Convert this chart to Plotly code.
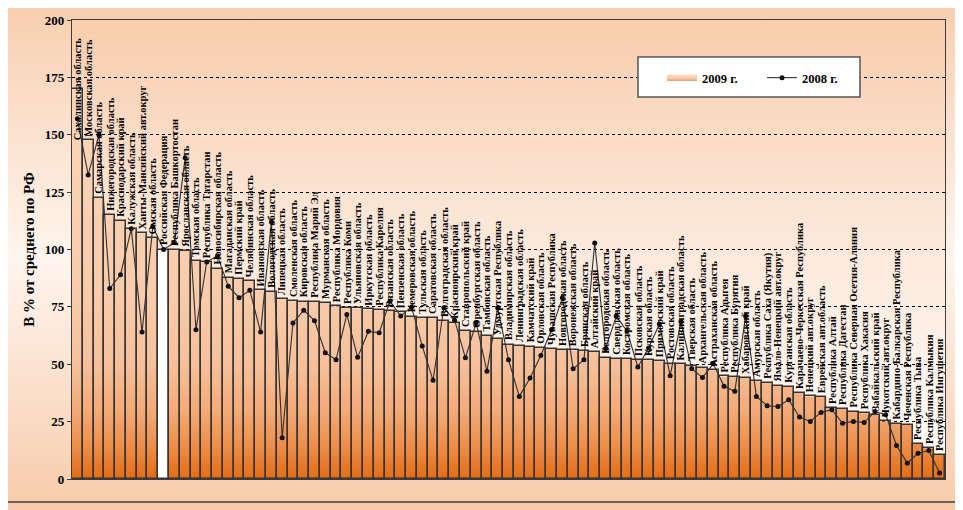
import base64
import numpy as np
import plotly.graph_objects as go

regions = [
    "Сахалинская область", "Московская область", "Самарская область", "Нижегородская область",
    "Краснодарский край", "Калужская область", "Ханты-Мансийский авт.округ", "Омская область",
    "Российская Федерация", "Республика Башкортостан", "Ярославская область", "Томская область",
    "Республика Татарстан", "Новосибирская область", "Магаданская область", "Пермский край",
    "Челябинская область", "Ивановская область", "Вологодская область", "Липецкая область",
    "Смоленская область", "Кировская область", "Республика Марий Эл", "Мурманская область",
    "Республика Мордовия", "Республика Коми", "Ульяновская область", "Иркутская область",
    "Республика Карелия", "Рязанская область", "Пензенская область", "Кемеровская область",
    "Тульская область", "Саратовская область", "Волгоградская область", "Красноярский край",
    "Ставропольский край", "Оренбургская область", "Тамбовская область", "Удмуртская Республика",
    "Владимирская область", "Ленинградская область", "Камчатский край", "Орловская область",
    "Чувашская Республика", "Новгородская область", "Воронежская область", "Брянская область",
    "Алтайский край", "Белгородская область", "Свердловская область", "Костромская область",
    "Псковская область", "Курская область", "Приморский край", "Ростовская область",
    "Калининградская область", "Тверская область", "Архангельская область", "Астраханская область",
    "Республика Адыгея", "Республика Бурятия", "Хабаровский край", "Амурская область",
    "Республика Саха (Якутия)", "Ямало-Ненецкий авт.округ", "Курганская область",
    "Карачаево-Черкесская Республика", "Ненецкий авт.округ", "Еврейская авт.область",
    "Республика Алтай", "Республика Дагестан", "Республика Северная Осетия-Алания",
    "Республика Хакасия", "Забайкальский край", "Чукотский авт.округ",
    "Кабардино-Балкарская Республика", "Чеченская Республика", "Республика Тыва",
    "Республика Калмыкия", "Республика Ингушетия",
]

values_2009 = [
    170, 147.5, 122.5, 115, 112.5, 109, 107, 105, 100, 99.7,
    99.5, 95, 94.5, 91.7, 87.8, 87.3, 86.3, 82.2, 81.5, 78.3,
    77.5, 77.3, 77, 76.8, 75.3, 74.7, 74.3, 73.9, 73.6, 73.2,
    72.7, 70.7, 70.3, 70, 68.8, 68.1, 64.7, 64, 62.5, 61,
    58.6, 57.9, 57.6, 57.1, 56.7, 56.4, 56, 55.7, 55.3, 52.8,
    52.3, 52.3, 52, 51.7, 51.3, 50.3, 50.1, 49.4, 48.4, 47.4,
    44.7, 44.5, 44, 42.6, 41.8, 40.7, 40.1, 37.5, 36, 35.7,
    30.9, 30.5, 29.4, 28.7, 28, 25.1, 24, 23.6, 15.3, 13.4,
    10.5,
]

values_2008 = [
    157, 132.5, 150, 83, 89, 109, 64, 110, 100, 103,
    140, 65, 94.6, 97.2, 84, 79, 82.2, 64, 112, 18,
    68, 73.5, 69, 55, 52, 71.7, 53, 64.4, 63.7, 77.5,
    71, 75, 57.9, 43, 74.6, 69.2, 52.8, 68, 47, 74.6,
    52, 36, 44, 53.8, 65, 79, 48, 52, 102.8, 56.8,
    71, 64.4, 48.8, 57.1, 67.5, 45, 68.5, 48, 44.2, 50.2,
    40.4, 38.2, 71, 36, 31.9, 31.6, 34.5, 27, 25.1, 29,
    30.2, 24.3, 25.1, 24.6, 29.4, 28, 14.6, 6.9, 11.2, 12.4,
    2.6,
]

series_2009 = "2009 г."
series_2008 = "2008 г."
y_title = "В % от среднего по РФ"
y_ticks = [0, 25, 50, 75, 100, 125, 150, 175, 200]
total_name = "Российская Федерация"

n = len(regions)
idx = np.arange(n)
v09 = np.array(values_2009, dtype=float)

# the page adds an 8px body margin, so the figure is sized to the window minus that offset
OFF = 8
W, H = 963 - OFF, 510 - OFF
L, T = 72 - OFF, 20 - OFF
R, B = W - (945 - OFF), H - (479 - OFF)
pw, ph = W - L - R, H - T - B

SERIF = "Liberation Serif"


def px_x(p):
    """page pixel -> plot paper fraction"""
    return (p - OFF - L) / pw


def px_y(p):
    return (H - B - (p - OFF)) / ph


def svg_uri(stops):
    st = "".join(f'<stop offset="{o}" stop-color="{c}"/>' for o, c in stops)
    svg = ('<svg xmlns="http://www.w3.org/2000/svg" width="10" height="100" preserveAspectRatio="none">'
           f'<defs><linearGradient id="g" x1="0" y1="0" x2="0" y2="1">{st}</linearGradient></defs>'
           '<rect width="10" height="100" fill="url(#g)"/></svg>')
    return "data:image/svg+xml;base64," + base64.b64encode(svg.encode()).decode()


fig = go.Figure()

# gradient fill of the 2009 bars (step outline of the same values)
fig.add_trace(go.Scatter(
    x=np.arange(n + 1) - 0.5, y=np.append(v09, v09[-1]),
    mode="none", line_shape="hv", fill="tozeroy", name=series_2009,
    fillgradient=dict(type="vertical", start=0, stop=200,
                      colorscale=[[0, "#e46a12"], [0.06, "#ec8840"], [0.14, "#f3a874"],
                                  [0.25, "#f7c09a"], [0.4, "#f9cbaa"], [0.7, "#fad3b5"],
                                  [1, "#fbd8bd"]]),
    hoverinfo="skip", xaxis="x", yaxis="y",
))

bar_colors = ["white" if r == total_name else "rgba(0,0,0,0)" for r in regions]
fig.add_trace(go.Bar(
    x=idx, y=v09, width=1, name=series_2009, showlegend=False,
    marker=dict(color=bar_colors, line=dict(color="#353535", width=1.5)),
    xaxis="x", yaxis="y2",
))

fig.add_trace(go.Scatter(
    x=idx, y=values_2008, mode="lines+markers", name=series_2008,
    line=dict(color="#303030", width=1.1),
    marker=dict(color="#111111", size=5),
    xaxis="x", yaxis="y2",
))

annotations = []
for i, (r, v) in enumerate(zip(regions, values_2009)):
    over = v > 150
    annotations.append(dict(
        x=i, y=v, xref="x", yref="y2", text=r, textangle=-90, showarrow=False,
        xanchor="center", yanchor="middle" if over else "bottom", yshift=0 if over else 2,
        font=dict(family=SERIF, size=10.5, color="black", weight="bold"),
    ))

shapes = [
    dict(type="rect", xref="paper", yref="paper", x0=px_x(638), x1=px_x(860), y0=px_y(97), y1=px_y(57),
         fillcolor="white", line=dict(color="#555555", width=1.5), layer="above"),
    dict(type="rect", xref="paper", yref="paper", x0=px_x(6), x1=px_x(958), y0=px_y(502), y1=px_y(5),
         fillcolor="rgba(0,0,0,0)", line=dict(color="#3c3c3c", width=1.5), layer="above"),
]

images = [
    dict(source=svg_uri([(0, "#f8cfb0"), (0.5, "#fff5ee"), (1, "#f7cbab")]),
         xref="paper", yref="paper", x=-L / pw, y=1 + T / ph, sizex=W / pw, sizey=H / ph,
         xanchor="left", yanchor="top", sizing="stretch", layer="below"),
    dict(source=svg_uri([(0, "#f9cdae"), (0.45, "#fce7d8"), (1, "#fffcfa")]),
         xref="paper", yref="paper", x=0, y=1, sizex=1, sizey=1,
         xanchor="left", yanchor="top", sizing="stretch", layer="below"),
]

fig.update_layout(
    width=W, height=H,
    margin=dict(l=L, r=R, t=T, b=B, autoexpand=False),
    paper_bgcolor="white", plot_bgcolor="rgba(0,0,0,0)",
    barmode="overlay", bargap=0,
    showlegend=True,
    legend=dict(orientation="h", x=px_x(662), y=px_y(78), xanchor="left", yanchor="middle",
                bgcolor="rgba(0,0,0,0)", borderwidth=0, entrywidth=55,
                font=dict(family=SERIF, size=12.5, color="black", weight="bold")),
    xaxis=dict(range=[-0.5, n - 0.5], showticklabels=False, ticks="", showgrid=False, zeroline=False,
               showline=True, mirror=True, linecolor="#3c3c3c", linewidth=1.2, automargin=False),
    yaxis=dict(range=[0, 200], tickvals=y_ticks, ticks="outside", ticklen=4, tickcolor="#3c3c3c",
               showline=True, mirror=True, linecolor="#3c3c3c", linewidth=1.2, automargin=False,
               showgrid=True, gridcolor="black", griddash="dot", gridwidth=1, zeroline=False,
               tickfont=dict(family=SERIF, size=13, color="black", weight="bold"),
               title=dict(text=y_title, standoff=6,
                          font=dict(family=SERIF, size=15, color="black", weight="bold"))),
    yaxis2=dict(range=[0, 200], overlaying="y", visible=False, showgrid=False, zeroline=False),
    annotations=annotations,
    shapes=shapes,
    images=images,
)

fig.write_html("out.html")
